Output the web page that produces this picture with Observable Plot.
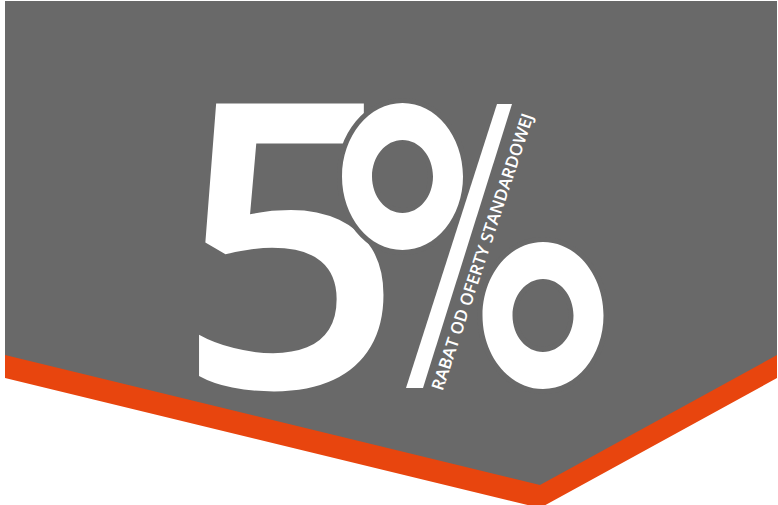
<!DOCTYPE html>
<html>
<head>
<meta charset="utf-8">
<script src="https://cdn.jsdelivr.net/npm/d3@7"></script>
<script src="https://cdn.jsdelivr.net/npm/@observablehq/plot@0.6"></script>
<style>
  html, body { margin: 0; padding: 0; background: #ffffff; }
  #chart svg { display: block; }
</style>
</head>
<body>
<div id="chart"></div>
<script>
// ---- data (shape anchors and labels) ----
const bannerX = [5, 540, 777];
const bannerTop = [1, 1, 1];
const bannerBottom = [355, 485, 355];
const stripeBottom = [378, 508, 378];

const bigLabel = ["5"];
const bigLabelX = [176];
const bigLabelY = [387];

const slashY = [104, 388];
const slashLeft = [497, 406];
const slashRight = [512, 423];

const ringX = [402, 542.5];
const ringY = [176, 315];

const subLabel = ["RABAT OD OFERTY STANDARDOWEJ"];
const subLabelX = [442];
const subLabelY = [391];

const gray = "#696969";
const orange = "#e8450e";

// ellipse ring symbol (outer and inner ellipse, opposite winding -> hole)
const K = 0.5523;
function ellipse(ctx, rx, ry, reverse) {
  if (!reverse) {
    ctx.moveTo(rx, 0);
    ctx.bezierCurveTo(rx, K * ry, K * rx, ry, 0, ry);
    ctx.bezierCurveTo(-K * rx, ry, -rx, K * ry, -rx, 0);
    ctx.bezierCurveTo(-rx, -K * ry, -K * rx, -ry, 0, -ry);
    ctx.bezierCurveTo(K * rx, -ry, rx, -K * ry, rx, 0);
  } else {
    ctx.moveTo(rx, 0);
    ctx.bezierCurveTo(rx, -K * ry, K * rx, -ry, 0, -ry);
    ctx.bezierCurveTo(-K * rx, -ry, -rx, -K * ry, -rx, 0);
    ctx.bezierCurveTo(-rx, K * ry, -K * rx, ry, 0, ry);
    ctx.bezierCurveTo(K * rx, ry, rx, K * ry, rx, 0);
  }
  ctx.closePath();
}
const ringSymbol = {
  draw(ctx) {
    ellipse(ctx, 60.5, 73.5, false);
    ellipse(ctx, 30.5, 36.5, true);
  }
};

const idx3 = d3.range(bannerX.length);
const idx2 = d3.range(slashY.length);

const chart = Plot.plot({
  width: 778,
  height: 505,
  margin: 0,
  style: { background: "transparent", overflow: "visible" },
  x: { domain: [0, 778], range: [0, 778], axis: null },
  y: { domain: [0, 505], range: [0, 505], axis: null },
  marks: [
    Plot.areaY(idx3, {
      x: i => bannerX[i],
      y1: i => bannerBottom[i] - 1,
      y2: i => stripeBottom[i],
      fill: orange
    }),
    Plot.areaY(idx3, {
      x: i => bannerX[i],
      y1: i => bannerTop[i],
      y2: i => bannerBottom[i],
      fill: gray
    }),
    Plot.text(bigLabel, {
      x: (d, i) => bigLabelX[i],
      y: (d, i) => bigLabelY[i],
      text: d => d,
      fontSize: 398,
      fontFamily: "Open Sans",
      fontWeight: 600,
      fill: "white",
      textAnchor: "start",
      lineAnchor: "bottom"
    }),
    Plot.areaX(idx2, {
      y: i => slashY[i],
      x1: i => slashLeft[i],
      x2: i => slashRight[i],
      fill: "white"
    }),
    Plot.dot(ringX, {
      x: (d, i) => ringX[i],
      y: (d, i) => ringY[i],
      symbol: ringSymbol,
      fill: "white",
      stroke: gray,
      strokeWidth: 10,
      paintOrder: "stroke"
    }),
    Plot.text(subLabel, {
      x: (d, i) => subLabelX[i],
      y: (d, i) => subLabelY[i],
      text: d => d,
      rotate: -71.7,
      fontSize: 17,
      fontFamily: "Open Sans",
      fontWeight: 600,
      fill: "white",
      textAnchor: "start",
      lineAnchor: "bottom",
      render(index, scales, values, dims, context, next) {
        const g = next(index, scales, values, dims, context);
        d3.select(g).selectAll("text").style("letter-spacing", "0px");
        return g;
      }
    })
  ]
});
document.getElementById("chart").appendChild(chart);
</script>
</body>
</html>
